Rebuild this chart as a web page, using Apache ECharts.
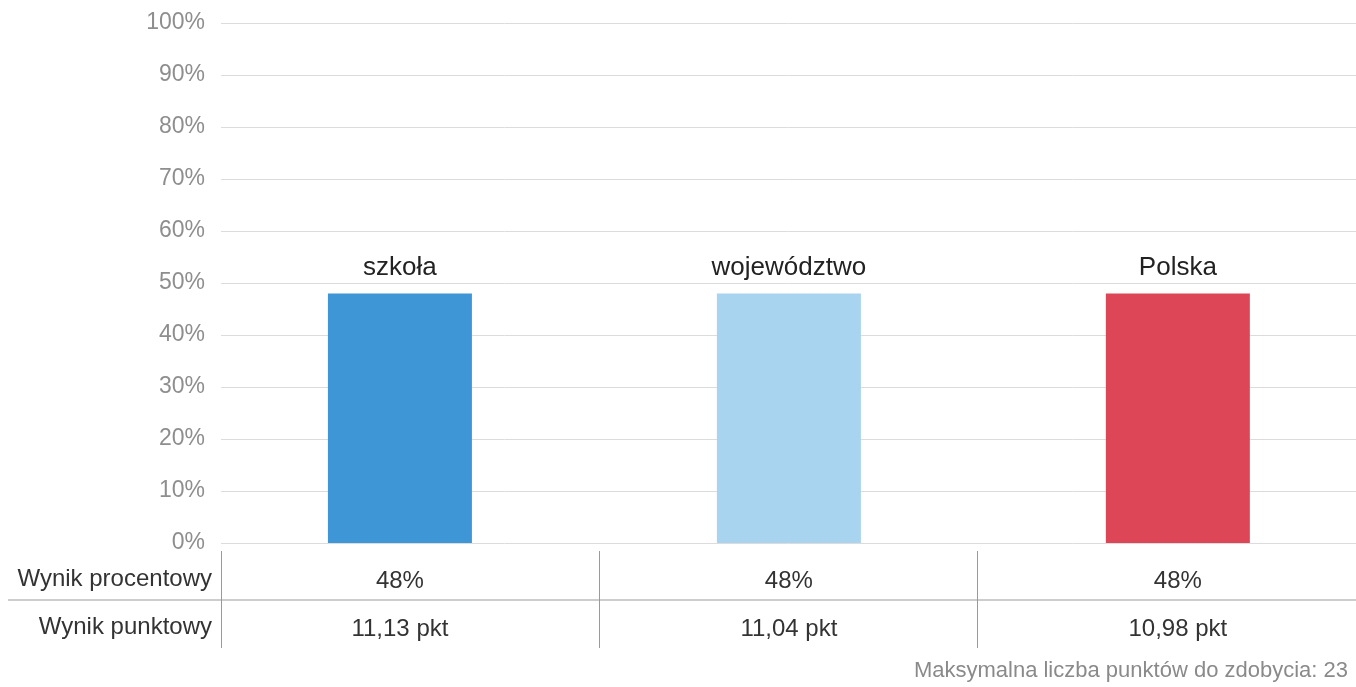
<!DOCTYPE html>
<html>
<head>
<meta charset="utf-8">
<script src="https://cdn.jsdelivr.net/npm/echarts@6/dist/echarts.min.js"></script>
<style>
  html, body { margin: 0; padding: 0; background: #fff; }
  #chart { width: 1356px; height: 687px; }
</style>
</head>
<body>
<div id="chart"></div>
<script>
// dane z wykresu
const categories = ['szkoła', 'województwo', 'Polska'];
const percentValues = [48, 48, 48];
const pointValues = [11.13, 11.04, 10.98];
const barColors = ['#3f96d6', '#a9d4ef', '#dc4657'];
const rowLabels = ['Wynik procentowy', 'Wynik punktowy'];
const maxPoints = 23;

const FONT = '"Liberation Sans", Arial, Helvetica, sans-serif';

const percentLabels = percentValues.map(v => v + '%');
const pointLabels = pointValues.map(v => v.toFixed(2).replace('.', ',') + ' pkt');
const positions = categories.map((c, i) => i);

// zakres osi x tak, by słupki stały w tych samych miejscach co w oryginale
const X_MIN = -0.46;
const X_MAX = 2.458;

function tableAxis(labels, margin) {
    return {
        gridIndex: 1, type: 'value', min: X_MIN, max: X_MAX, position: 'bottom',
        axisLine: { show: false }, axisTick: { show: false }, splitLine: { show: false },
        axisLabel: {
            customValues: positions,
            formatter: v => labels[Math.round(v)],
            margin: margin, fontSize: 24, color: '#333', fontFamily: FONT
        }
    };
}

var myChart = echarts.init(document.getElementById('chart'));

myChart.setOption({
    animation: false,
    textStyle: { fontFamily: FONT },
    title: {
        text: 'Maksymalna liczba punktów do zdobycia: ' + maxPoints,
        right: 3,
        bottom: 0,
        textStyle: { fontSize: 22, fontWeight: 'normal', color: '#8a8a8a', fontFamily: FONT }
    },
    grid: [
        // siatka z osią procentową
        { left: 221, right: 0, top: 23, height: 520 },
        // słupki i wartości w tabeli
        { left: 221, right: 0, top: 23, height: 520 },
        // tabela pod wykresem
        { left: 221, right: 0, top: 555, height: 97 }
    ],
    xAxis: [
        { gridIndex: 0, type: 'category', data: categories, show: false },
        { gridIndex: 1, type: 'value', min: X_MIN, max: X_MAX, show: false },
        tableAxis(percentLabels, 26),
        tableAxis(pointLabels, 74),
        {
            gridIndex: 2, type: 'category', data: categories, position: 'top', offset: 4,
            axisLine: { show: false },
            axisLabel: { show: false },
            axisTick: { show: true, inside: true, length: 97, lineStyle: { color: '#9a9a9a', width: 1 } }
        }
    ],
    yAxis: [
        {
            gridIndex: 0, type: 'value', min: 0, max: 100, interval: 10,
            axisLine: { show: false }, axisTick: { show: false },
            axisLabel: { formatter: '{value}%', fontSize: 23, color: '#8e8e8e', margin: 16, fontFamily: FONT },
            splitLine: { lineStyle: { color: '#dcdcdc', width: 1 } }
        },
        { gridIndex: 1, type: 'value', min: 0, max: 100, show: false, splitLine: { show: false } },
        {
            gridIndex: 2, type: 'category', data: rowLabels, inverse: true,
            axisLine: { show: false }, axisTick: { show: false },
            axisLabel: { fontSize: 24, color: '#333', margin: 9, fontFamily: FONT }
        }
    ],
    graphic: [
        {
            type: 'line',
            shape: { x1: 8, y1: 600, x2: 1356, y2: 600 },
            style: { stroke: '#9a9a9a', lineWidth: 1 }
        }
    ],
    series: [
        {
            type: 'bar',
            xAxisIndex: 1,
            yAxisIndex: 1,
            barWidth: 144,
            data: percentValues.map((v, i) => ({ value: [positions[i], v], itemStyle: { color: barColors[i] } })),
            label: {
                show: true,
                position: 'top',
                distance: 13,
                formatter: p => categories[p.dataIndex],
                fontSize: 26,
                color: '#222',
                fontFamily: FONT
            }
        }
    ]
});
</script>
</body>
</html>
